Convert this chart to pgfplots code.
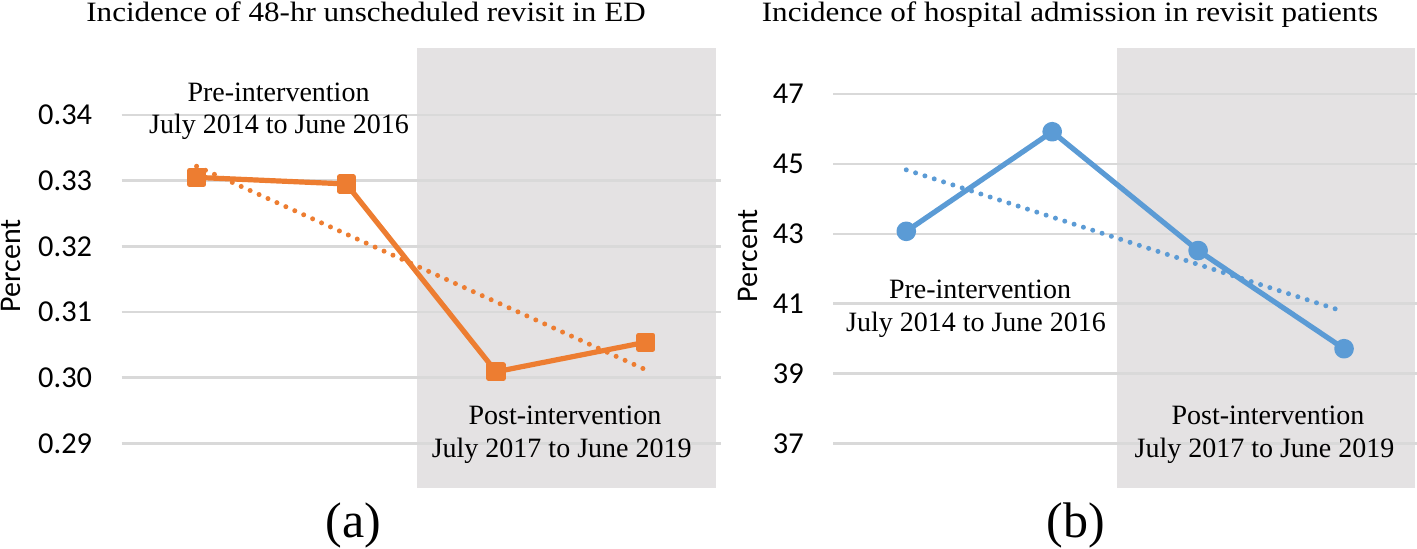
\documentclass[border=0pt]{standalone}
\usepackage{fontspec}
\setmainfont{Liberation Serif}
\newfontfamily\calibri{Carlito}
\newfontfamily\titlefont[FakeStretch=1.11]{Liberation Serif}
\usepackage{pgfplots}
\pgfplotsset{compat=1.18}
\definecolor{orng}{HTML}{ED7D31}
\definecolor{blu}{HTML}{5B9BD5}
\definecolor{shade}{HTML}{E4E2E3}
\definecolor{gridc}{HTML}{D9D9D9}
\pgfplotsset{
  base/.style={
    scale only axis,
    height=220pt,
    xmin=-0.5, xmax=3.5,
    xtick=\empty,
    axis line style={draw=none},
    major tick length=0pt,
    clip=false,
  },
  panel/.style={
    base,
    ymajorgrids,
    grid style={gridc, line width=1.2pt},
    yticklabel style={font=\calibri\fontsize{15.2}{18}\selectfont, anchor=east, inner sep=0pt, xshift=-14.6pt,
      /pgf/number format/assume math mode=true},
  },
  bg/.style={base, ytick=\empty},
  solidline/.style={line width=2.6pt, line join=round},
  dotline/.style={line width=2.5pt, line cap=round, dash pattern=on 0pt off 4.9pt},
}
\begin{document}
\begin{tikzpicture}
\useasboundingbox (0,0) rectangle (708.5pt,274pt);
% ---------- panel (a) background
\begin{axis}[bg, at={(60.85pt,29.85pt)}, anchor=south west, width=299.5pt,
  ymin=0.28315, ymax=0.35016]
\addplot[fill=shade, draw=none] coordinates {(1.474,0.28315) (3.469,0.28315) (3.469,0.35016) (1.474,0.35016)} -- cycle;
\end{axis}
% ---------- panel (a)
\begin{axis}[panel,
  at={(60.85pt,29.85pt)}, anchor=south west, width=299.5pt,
  ymin=0.28315, ymax=0.35016,
  ytick={0.29,0.30,0.31,0.32,0.33,0.34},
  yticklabel style={/pgf/number format/fixed, /pgf/number format/fixed zerofill, /pgf/number format/precision=2}]
\addplot[orng, dotline] coordinates {(0,0.3322) (3,0.3012)};
\addplot[orng, solidline, mark=square*, mark size=3.5pt, mark options={solid}]
  coordinates {(0,0.3305) (1,0.3295) (2,0.3009) (3,0.3054)};
\end{axis}
% ---------- panel (b) background
\begin{axis}[bg, at={(416.65pt,29.85pt)}, anchor=south west, width=291.85pt,
  ymin=35.715, ymax=48.308]
\addplot[fill=shade, draw=none] coordinates {(1.442,35.715) (3.485,35.715) (3.485,48.308) (1.442,48.308)} -- cycle;
\end{axis}
% ---------- panel (b)
\begin{axis}[panel,
  at={(416.65pt,29.85pt)}, anchor=south west, width=291.85pt,
  ymin=35.715, ymax=48.308,
  ytick={37,39,41,43,45,47}]
\addplot[blu, dotline] coordinates {(0,44.83) (3,40.77)};
\addplot[blu, solidline, mark=*, mark size=3.6pt, mark options={solid}]
  coordinates {(0,43.07) (1,45.92) (2,42.52) (3,39.71)};
\end{axis}
% ---------- texts
\begin{scope}[every node/.style={anchor=base, inner sep=0pt, font=\fontsize{14}{17}\selectfont}]
\node[font=\titlefont\fontsize{14}{17}\selectfont] at (183pt,263.15pt) {Incidence of 48-hr unscheduled revisit in ED};
\node[font=\titlefont\fontsize{14}{17}\selectfont] at (535pt,263.15pt) {Incidence of hospital admission in revisit patients};
\node at (139.25pt,223.5pt) {Pre-intervention};
\node at (139.5pt,207.35pt) {July 2014 to June 2016};
\node at (282.5pt,61.85pt) {Post-intervention};
\node at (280.85pt,45.15pt) {July 2017 to June 2019};
\node at (490pt,124.7pt) {Pre-intervention};
\node at (488pt,108.5pt) {July 2014 to June 2016};
\node at (634pt,61.85pt) {Post-intervention};
\node at (632.25pt,45.15pt) {July 2017 to June 2019};
\node[font=\fontsize{25}{30}\selectfont] at (176.8pt,5.5pt) {(a)};
\node[font=\fontsize{25}{30}\selectfont] at (538pt,5.5pt) {(b)};
\end{scope}
\node[rotate=90, inner sep=0pt, font=\calibri\fontsize{15}{18}\selectfont] at (5.6pt,141pt) {Percent};
\node[rotate=90, inner sep=0pt, font=\calibri\fontsize{15}{18}\selectfont] at (374pt,146pt) {Percent};
\end{tikzpicture}
\end{document}
